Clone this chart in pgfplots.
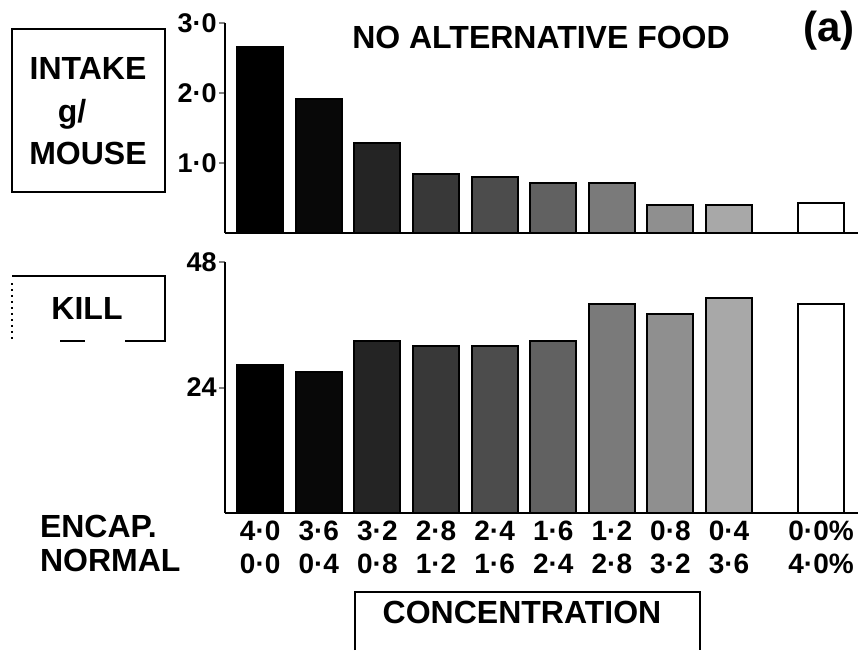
\documentclass[border=0pt]{standalone}
\usepackage{pgfplots}
\pgfplotsset{compat=1.18}
\usepackage{fontspec}
\setmainfont{Liberation Sans}
\newcommand\lblfont{\fontsize{16bp}{19bp}\selectfont\bfseries}
\newcommand\tickfont{\fontsize{13.5bp}{15bp}\selectfont\bfseries}
\definecolor{f1}{gray}{0.0}
\definecolor{f2}{gray}{0.03}
\definecolor{f3}{gray}{0.14}
\definecolor{f4}{gray}{0.22}
\definecolor{f5}{gray}{0.30}
\definecolor{f6}{gray}{0.38}
\definecolor{f7}{gray}{0.48}
\definecolor{f8}{gray}{0.56}
\definecolor{f9}{gray}{0.66}
\definecolor{f10}{gray}{1.0}
\pgfplotsset{
  panel/.style={
    scale only axis, width=316.5bp,
    xmin=-0.6, xmax=10.2, ymin=0,
    axis x line=bottom, axis y line=left,
    axis line style={-, line width=1bp},
    ybar, bar width=23bp, bar shift=0pt,
    ytick pos=left, tick align=outside,
    major tick length=3bp, major tick style={line width=1bp},
    yticklabel style={font=\tickfont, inner sep=1bp},
    clip=false,
  },
  b/.style={draw=black, line width=1bp, fill=#1},
}
\begin{document}
\begin{tikzpicture}
% page in reference pixels: x right, y down, 1px = 0.5bp
\begin{scope}[x=0.5bp,y=-0.5bp]
\useasboundingbox (0,0) rectangle (864,639);
\end{scope}

% intake
\begin{axis}[panel, at={(112.5bp,-116.5bp)}, anchor=south west, height=105bp,
  ymax=3, ytick={1,2,3}, yticklabels={1·0,2·0,3·0}, xtick=\empty]
\addplot[b=f1] coordinates {(0,2.66)};
\addplot[b=f2] coordinates {(1,1.91)};
\addplot[b=f3] coordinates {(2,1.29)};
\addplot[b=f4] coordinates {(3,0.84)};
\addplot[b=f5] coordinates {(4,0.80)};
\addplot[b=f6] coordinates {(5,0.71)};
\addplot[b=f7] coordinates {(6,0.71)};
\addplot[b=f8] coordinates {(7,0.40)};
\addplot[b=f9] coordinates {(8,0.40)};
\addplot[b=f10] coordinates {(9.57,0.43)};
\end{axis}

% kill
\begin{axis}[panel, at={(112.5bp,-256.5bp)}, anchor=south west, height=125.5bp,
  ymax=48, ytick={24,48}, yticklabels={24,48},
  xtick={0,1,2,3,4,5,6,7,8,9.57}, x tick style={draw=none},
  xticklabel style={font=\fontsize{14bp}{16.5bp}\selectfont\bfseries, align=center, inner sep=1bp},
  xticklabels={{4·0\\0·0},{3·6\\0·4},{3·2\\0·8},{2·8\\1·2},{2·4\\1·6},
    {1·6\\2·4},{1·2\\2·8},{0·8\\3·2},{0·4\\3·6},{0·0\%\\4·0\%}}]
\addplot[b=f1] coordinates {(0,28.3)};
\addplot[b=f2] coordinates {(1,27.0)};
\addplot[b=f3] coordinates {(2,32.9)};
\addplot[b=f4] coordinates {(3,31.9)};
\addplot[b=f5] coordinates {(4,31.9)};
\addplot[b=f6] coordinates {(5,32.9)};
\addplot[b=f7] coordinates {(6,40.0)};
\addplot[b=f8] coordinates {(7,38.0)};
\addplot[b=f9] coordinates {(8,41.1)};
\addplot[b=f10] coordinates {(9.57,40.0)};
\end{axis}

% labels and boxes
\begin{scope}[x=0.5bp,y=-0.5bp]
\node[font=\lblfont] at (541,37) {NO ALTERNATIVE FOOD};
\node[font=\fontsize{21bp}{24bp}\selectfont\bfseries] at (829,31) {(a)};

\draw[line width=1bp] (12,29) rectangle (165,192);
\node[font=\lblfont] at (88,68) {INTAKE};
\node[font=\lblfont] at (72,114) {g/};
\node[font=\lblfont] at (88,153) {MOUSE};

\draw[line width=1bp] (12,276) -- (165,276) -- (165,341) -- (125,341);
\draw[line width=1bp] (60,341) -- (85,341);
\draw[line width=1bp, dotted] (12,283) -- (12,340);
\node[font=\lblfont] at (87,308) {KILL};

\node[font=\lblfont, anchor=west] at (33,526) {ENCAP.};
\node[font=\lblfont, anchor=west] at (33,560) {NORMAL};

\draw[line width=1bp] (355,650) -- (355,592) -- (700,592) -- (700,650);
\node[font=\lblfont] at (522,612) {CONCENTRATION};
\end{scope}
\end{tikzpicture}
\end{document}
